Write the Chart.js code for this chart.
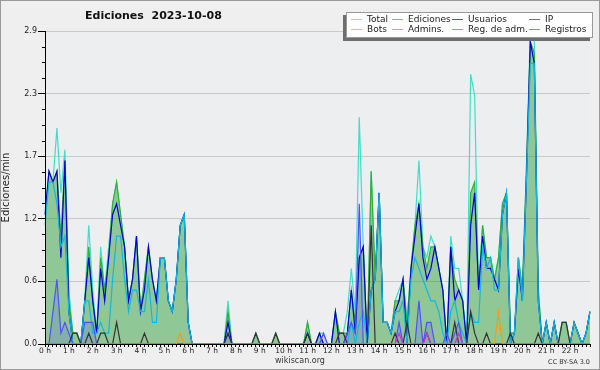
<!DOCTYPE html>
<html>
<head>
<meta charset="utf-8">
<script src="https://cdn.jsdelivr.net/npm/chart.js@4.4.0/dist/chart.umd.min.js"></script>
<style>
body { margin:0; background:#fff; font-family:'DejaVu Sans', sans-serif; }
#wrap { position:relative; width:600px; height:370px; background:#efefef; }
#frame { position:absolute; left:0; top:0; width:600px; height:370px; box-sizing:border-box; border:1px solid #9a9a9a; pointer-events:none; }
#title { position:absolute; left:85px; top:9px; font-weight:bold; font-size:11px; color:#111; white-space:pre; }
#legend { position:absolute; left:346px; top:12px; width:247px; height:26px; box-sizing:border-box; background:#fff; border:1px solid #999; box-shadow:-3px 3px 0 #6e6e6e; }
.item { position:absolute; font-size:9px; color:#222; line-height:10px; white-space:nowrap; }
.item i { position:absolute; left:-16px; top:5px; width:11px; height:0; border-top:1px solid; opacity:.7; }
#site { position:absolute; left:0; width:600px; top:356px; text-align:center; font-size:8px; color:#333; }
#lic { position:absolute; right:10px; top:358px; font-size:6.5px; color:#333; }
</style>
</head>
<body>
<div id="wrap">
  <canvas id="chart" width="600" height="370"></canvas>
  <div id="title">Ediciones  2023-10-08</div>
  <div id="legend"></div>
  <div id="site">wikiscan.org</div>
  <div id="lic">CC BY-SA 3.0</div>
  <div id="frame"></div>
</div>
<script>
// one value every 10 minutes, from 0 h 00 to 22 h 50 (edits per minute)
const hourLabels = ['0 h','1 h','2 h','3 h','4 h','5 h','6 h','7 h','8 h','9 h','10 h','11 h',
                    '12 h','13 h','14 h','15 h','16 h','17 h','18 h','19 h','20 h','21 h','22 h'];

const total = [
  1.3,1.5,1.5,2.0,1.4,1.8,  0.5,0.1,0.1,0,0.4,1.1,  0.5,0.1,0.9,0.5,0.9,1.3,  1.5,1.2,0.9,0.4,0.6,1.0,
  0.3,0.6,0.9,0.6,0.4,0.8,  0.8,0.4,0.3,0.6,1.1,1.2,  0.2,0,0,0,0,0,  0,0,0,0,0.4,0,
  0,0,0,0,0,0.1,  0,0,0,0,0.1,0,  0,0,0,0,0,0,  0.2,0,0,0.1,0.1,0,
  0,0.3,0.1,0.1,0.3,0.7,  0.3,2.1,0.9,0,1.6,0.6,  1.4,0.2,0.2,0.1,0.4,0.5,  0.6,0.2,0.7,1.1,1.7,0.9,
  0.8,1.0,0.9,0.7,0.5,0,  1.0,0.7,0.7,0.4,0,2.5,  2.3,0.5,1.1,0.8,0.8,0.6,  0.8,1.3,1.4,0.1,0.1,0.8,
  0.5,1.6,2.9,2.8,0.5,0,  0.2,0,0.2,0,0.2,0.2,  0,0.2,0.1,0,0.1,0.3
];
const ediciones = [
  1.2,1.6,1.5,1.6,1.0,1.7,  0.4,0.1,0.1,0,0.4,0.9,  0.4,0.1,0.8,0.5,0.8,1.3,  1.5,1.2,0.9,0.4,0.6,1.0,
  0.3,0.6,0.9,0.6,0.4,0.8,  0.8,0.4,0.3,0.6,1.1,1.2,  0.2,0,0,0,0,0,  0,0,0,0,0.3,0,
  0,0,0,0,0,0.1,  0,0,0,0,0.1,0,  0,0,0,0,0,0,  0.2,0,0,0.1,0,0,
  0,0.3,0.1,0.1,0.1,0.5,  0.2,0.8,0.9,0,1.6,0.6,  1.4,0.2,0.2,0.1,0.4,0.4,  0.6,0.2,0.7,1.1,1.3,0.9,
  0.7,0.9,0.9,0.7,0.5,0,  0.9,0.6,0.5,0.4,0,1.4,  1.5,0.5,1.1,0.8,0.8,0.6,  0.8,1.3,1.4,0.1,0.1,0.8,
  0.5,1.6,2.8,2.7,0.5,0,  0.2,0,0.2,0,0.2,0.2,  0,0.2,0.1,0,0.1,0.3
];
const usuarios = [
  1.2,1.6,1.5,1.6,0.8,1.7,  0.3,0,0,0,0.4,0.8,  0.4,0.1,0.7,0.4,0.8,1.2,  1.3,1.1,0.9,0.4,0.6,1.0,
  0.3,0.5,0.9,0.6,0.4,0.8,  0.8,0.4,0.3,0.6,1.1,1.2,  0.2,0,0,0,0,0,  0,0,0,0,0.2,0,
  0,0,0,0,0,0,  0,0,0,0,0,0,  0,0,0,0,0,0,  0.1,0,0,0.1,0,0,
  0,0.3,0,0,0.1,0.5,  0.1,0.8,0.9,0,0.5,0.6,  1.4,0.2,0.2,0.1,0.3,0.4,  0.6,0,0.7,1.0,1.3,0.8,
  0.6,0.7,0.9,0.7,0.5,0,  0.9,0.4,0.5,0.4,0,1.1,  1.4,0.5,1.0,0.7,0.7,0.6,  0.5,1.2,1.4,0,0.1,0.7,
  0.4,1.5,2.8,2.6,0.4,0,  0.2,0,0.2,0,0,0,  0,0.2,0.1,0,0.1,0.3
];
const ip = [
  0,0,0,0,0,0,  0,0.1,0.1,0,0,0.1,  0,0,0.1,0.1,0,0,  0.2,0,0,0,0,0,
  0,0.1,0,0,0,0,  0,0,0,0,0,0,  0,0,0,0,0,0,  0,0,0,0,0.1,0,
  0,0,0,0,0,0.1,  0,0,0,0,0.1,0,  0,0,0,0,0,0,  0.1,0,0,0,0,0,
  0,0,0.1,0.1,0,0,  0,0,0,0,1.1,0,  0,0,0,0,0.1,0,  0,0.2,0,0,0,0,
  0.1,0,0,0,0,0,  0,0.2,0,0,0,0.3,  0.1,0,0,0.1,0,0,  0,0,0,0.1,0,0,
  0,0,0,0,0.1,0,  0,0,0,0,0.2,0.2,  0,0,0,0,0,0
];
const bots = [
  0,0,0,0,0,0,  0,0,0,0,0,0,  0,0,0,0,0,0,  0,0,0,0,0,0,
  0,0,0,0,0,0,  0,0,0,0,0.1,0,  0,0,0,0,0,0,  0,0,0,0,0,0,
  0,0,0,0,0,0,  0,0,0,0,0,0,  0,0,0,0,0,0,  0,0,0,0,0,0,
  0,0,0,0,0,0,  0,0,0,0,0,0,  0,0,0,0,0,0,  0,0,0,0,0,0,
  0,0,0,0,0,0,  0,0,0,0,0,0,  0,0,0,0,0,0,  0.3,0,0,0,0,0,
  0,0,0,0,0,0,  0,0,0,0,0,0,  0,0,0,0,0,0
];
const admins = [
  1.1,1.5,1.5,1.3,0.9,1.0,  0.3,0,0,0,0.4,0.4,  0.1,0.1,0.2,0.1,0.1,0.6,  1.0,1.0,0.6,0.3,0.5,0.5,
  0.3,0.3,0.6,0.2,0.2,0.8,  0.8,0.4,0.3,0.6,1.1,1.2,  0.2,0,0,0,0,0,  0,0,0,0,0,0,
  0,0,0,0,0,0,  0,0,0,0,0,0,  0,0,0,0,0,0,  0,0,0,0,0,0,
  0,0,0,0,0,0.2,  0,0.2,0.3,0,0.5,0.6,  1.4,0.2,0.2,0.1,0.3,0.3,  0.4,0,0.6,0.8,0.7,0.6,
  0.5,0.4,0.4,0.3,0.1,0,  0.3,0.4,0.2,0.1,0,0.3,  0.2,0.2,0.9,0.7,0.8,0.5,  0.5,1.2,1.4,0,0.1,0.8,
  0.4,1.5,2.6,2.6,0.4,0,  0.2,0,0.2,0,0,0,  0,0.2,0.1,0,0.1,0.3
];
const regAdm = [
  0,0,0,0,0,0,  0,0,0,0,0,0,  0,0,0,0,0,0,  0,0,0,0,0,0,
  0,0,0,0,0,0,  0,0,0,0,0,0,  0,0,0,0,0,0,  0,0,0,0,0,0,
  0,0,0,0,0,0,  0,0,0,0,0,0,  0,0,0,0,0,0,  0,0,0,0,0,0,
  0,0,0,0,0,0,  0,0,0,0,0,0,  0,0,0,0,0,0.1,  0,0,0,0,0,0,
  0.1,0,0,0,0,0,  0,0,0.1,0,0,0,  0,0,0,0,0,0,  0,0,0,0,0,0,
  0,0,0,0,0,0,  0,0,0,0,0,0,  0,0,0,0,0,0
];
const registros = [
  0,0,0.3,0.6,0.1,0.2,  0.1,0,0,0,0.2,0.2,  0.2,0,0,0,0,0,  0,0,0,0,0,0,
  0,0,0,0,0,0,  0,0,0,0,0,0,  0,0,0,0,0,0,  0,0,0,0,0.1,0,
  0,0,0,0,0,0,  0,0,0,0,0,0,  0,0,0,0,0,0,  0,0,0,0,0.1,0,
  0,0,0,0,0.1,0.2,  0.1,1.3,0,0,0,0,  0,0,0,0,0,0.2,  0,0,0,0,0.4,0,
  0.2,0.2,0,0,0,0.1,  0,0.1,0.2,0,0,0,  0,0,0,0,0,0,  0,0,0,0,0,0,
  0,0,0,0,0,0,  0,0,0,0,0,0,  0,0,0,0,0,0
];

const yMajor = [0, 0.58, 1.16, 1.74, 2.32, 2.9];

// first entry is drawn on top
const series = [
  { name: 'Bots',          data: bots,      color: '#ff9a00' },
  { name: 'Reg. de adm.',  data: regAdm,    color: '#cc33dd' },
  { name: 'IP',            data: ip,        color: '#333333' },
  { name: 'Registros',     data: registros, color: '#5050ff', fill: 'rgba(70,70,255,0.18)' },
  { name: 'Admins.',       data: admins,    color: '#10b8e0' },
  { name: 'Usuarios',      data: usuarios,  color: '#0000d8' },
  { name: 'Ediciones',     data: ediciones, color: '#30b030', fill: 'rgba(30,150,40,0.45)' },
  { name: 'Total',         data: total,     color: '#40dccc' }
];
const legendOrder = ['Total', 'Ediciones', 'Usuarios', 'IP', 'Bots', 'Admins.', 'Reg. de adm.', 'Registros'];

const labels = total.map((v, i) => i % 6 === 0 ? hourLabels[i / 6] : '');

const yTicks = [];
for (let k = 0; k < yMajor.length - 1; k++) {
  const step = (yMajor[k + 1] - yMajor[k]) / 4;
  for (let j = 0; j < 4; j++) yTicks.push(yMajor[k] + j * step);
}
yTicks.push(yMajor[yMajor.length - 1]);

// legend
const legendEl = document.getElementById('legend');
const colLeft = [20, 61, 121, 198];
legendOrder.forEach((name, n) => {
  const s = series.find(d => d.name === name);
  const el = document.createElement('div');
  el.className = 'item';
  el.style.left = colLeft[n % 4] + 'px';
  el.style.top = (n < 4 ? 1 : 11) + 'px';
  el.innerHTML = '<i style="border-color:' + s.color + '"></i>' + name;
  legendEl.appendChild(el);
});

const axisFix = {
  id: 'axisFix',
  beforeDraw(chart) {
    const { ctx, chartArea: a } = chart;
    ctx.save();
    ctx.fillStyle = '#edeef0';
    ctx.fillRect(a.left, a.top, a.right - a.left, a.bottom - a.top);
    ctx.restore();
  },
  afterDatasetsDraw(chart) {
    const { ctx, chartArea: a, scales: { y } } = chart;
    ctx.save();
    ctx.strokeStyle = '#000';
    ctx.lineWidth = 1;
    ctx.beginPath();
    y.ticks.forEach((t, i) => {
      if (i % 4 === 0) return;
      const py = Math.round(y.getPixelForValue(t.value)) + 0.5;
      ctx.moveTo(a.left - 3, py);
      ctx.lineTo(a.left, py);
    });
    const bx = Math.round(a.left) + 0.5, by = Math.round(a.bottom) + 0.5;
    ctx.moveTo(bx, a.top);
    ctx.lineTo(bx, by);
    ctx.lineTo(a.right, by);
    ctx.stroke();
    ctx.restore();
  }
};

Chart.defaults.font.family = "'DejaVu Sans', sans-serif";

new Chart(document.getElementById('chart'), {
  type: 'line',
  data: {
    labels: labels,
    datasets: series.map(s => ({
      label: s.name,
      data: s.data,
      borderColor: s.color,
      backgroundColor: s.fill || s.color,
      fill: s.fill ? 'origin' : false,
      borderWidth: 1.2,
      pointRadius: 0,
      tension: 0
    }))
  },
  options: {
    responsive: false,
    animation: false,
    events: [],
    layout: { padding: { left: 0, top: 31, right: 10, bottom: 14 } },
    plugins: {
      legend: { display: false },
      tooltip: { enabled: false },
      filler: { drawTime: 'beforeDatasetsDraw' }
    },
    scales: {
      x: {
        type: 'category',
        offset: false,
        grid: { drawOnChartArea: false, drawTicks: true, tickLength: 3, tickColor: '#000' },
        border: { color: '#000' },
        ticks: { autoSkip: false, maxRotation: 0, minRotation: 0, padding: 0, color: '#222', font: { size: 7.5 } }
      },
      y: {
        min: 0,
        max: 2.9,
        afterBuildTicks: s => { s.ticks = yTicks.map(v => ({ value: v })); },
        afterFit: s => { s.width = 45; },
        grid: {
          color: c => c.index % 4 === 0 ? '#c9c9c9' : 'rgba(0,0,0,0)',
          tickColor: c => c.index % 4 === 0 ? '#000' : 'rgba(0,0,0,0)',
          tickLength: 7
        },
        border: { color: '#000' },
        ticks: {
          callback: (v, i) => i % 4 === 0 ? v.toFixed(1) : '',
          padding: 1,
          color: '#222',
          font: { size: 8 }
        },
        title: { display: true, text: 'Ediciones/min', color: '#222', font: { size: 10 }, padding: 0 }
      }
    }
  },
  plugins: [axisFix]
});
</script>
</body>
</html>
